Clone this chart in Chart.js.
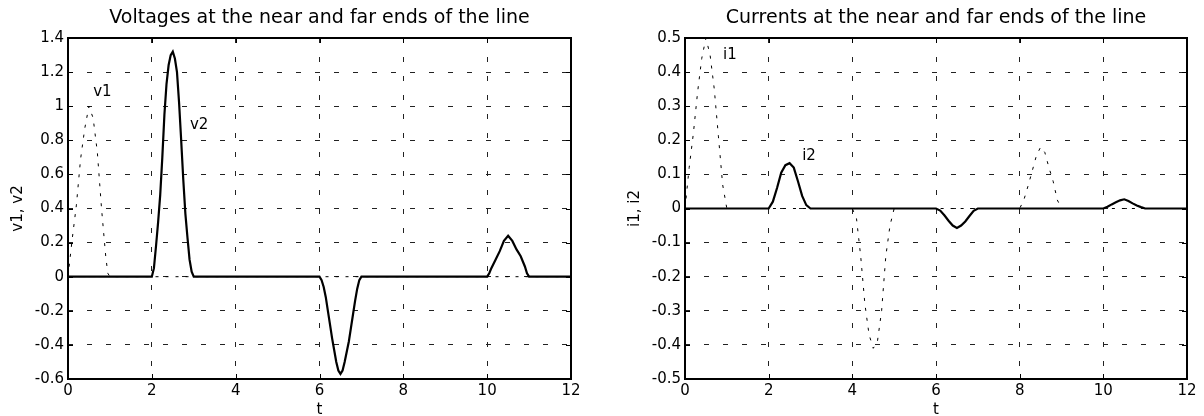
<!DOCTYPE html>
<html>
<head>
<meta charset="utf-8">
<script src="https://cdn.jsdelivr.net/npm/chart.js@4.4.1/dist/chart.umd.min.js"></script>
<style>
  html, body { margin: 0; padding: 0; background: #fff; }
  #wrap { position: relative; width: 1204px; height: 416px; }
  canvas { position: absolute; top: 0; }
</style>
</head>
<body>
<div id="wrap">
  <canvas id="volt" width="602" height="416" style="left:0"></canvas>
  <canvas id="curr" width="602" height="416" style="left:602px"></canvas>
</div>
<script>
// near end voltage v1 (dotted)
const tV1 = [0, 0.1, 0.2, 0.3, 0.4, 0.5, 0.6, 0.7, 0.8, 0.9, 0.95, 1.0, 12];
const v1 = [0, 0.22, 0.42, 0.69, 0.87, 1.0, 0.93, 0.73, 0.4, 0.12, 0.02, 0, 0];

// far end voltage v2 (solid)
const tV2 = [0,
  2.0, 2.05, 2.1, 2.15, 2.2, 2.25, 2.3, 2.35, 2.4, 2.45, 2.5, 2.55, 2.6, 2.65, 2.7, 2.75, 2.8, 2.85, 2.9, 2.95, 3.0,
  6.0, 6.05, 6.1, 6.15, 6.2, 6.25, 6.3, 6.35, 6.4, 6.45, 6.5, 6.55, 6.6, 6.65, 6.7, 6.75, 6.8, 6.85, 6.9, 6.95, 7.0,
  10.0, 10.05, 10.1, 10.2, 10.3, 10.4, 10.5, 10.6, 10.7, 10.8, 10.9, 10.95, 11.0,
  12];
const v2 = [0,
  0, 0.05, 0.18, 0.32, 0.48, 0.7, 0.95, 1.13, 1.24, 1.3, 1.32, 1.28, 1.2, 1.02, 0.8, 0.57, 0.37, 0.23, 0.1, 0.03, 0,
  0, -0.02, -0.06, -0.12, -0.2, -0.28, -0.36, -0.43, -0.5, -0.55, -0.57, -0.55, -0.5, -0.44, -0.38, -0.3, -0.22, -0.14, -0.07, -0.02, 0,
  0, 0.02, 0.05, 0.1, 0.15, 0.21, 0.24, 0.21, 0.16, 0.12, 0.06, 0.02, 0,
  0];

// near end current i1 (dotted)
const tI1 = [0, 0.1, 0.2, 0.3, 0.4, 0.5, 0.6, 0.7, 0.8, 0.9, 1.0,
  4.0, 4.1, 4.2, 4.3, 4.4, 4.5, 4.6, 4.7, 4.8, 4.9, 5.0,
  8.0, 8.1, 8.2, 8.3, 8.4, 8.5, 8.6, 8.7, 8.8, 8.9, 9.0,
  12];
const i1 = [0, 0.12, 0.22, 0.34, 0.44, 0.5, 0.45, 0.35, 0.21, 0.07, 0,
  0, -0.03, -0.14, -0.28, -0.37, -0.41, -0.39, -0.3, -0.14, -0.05, 0,
  0, 0.025, 0.066, 0.11, 0.155, 0.18, 0.165, 0.12, 0.08, 0.025, 0,
  0];

// far end current i2 (solid)
const tI2 = [0,
  2.0, 2.1, 2.2, 2.3, 2.4, 2.5, 2.6, 2.7, 2.8, 2.9, 3.0,
  6.0, 6.1, 6.2, 6.3, 6.4, 6.5, 6.6, 6.7, 6.8, 6.9, 7.0,
  10.0, 10.1, 10.2, 10.3, 10.4, 10.5, 10.6, 10.7, 10.8, 10.9, 11.0,
  12];
const i2 = [0,
  0, 0.02, 0.06, 0.105, 0.127, 0.133, 0.12, 0.08, 0.037, 0.01, 0,
  0, -0.006, -0.02, -0.036, -0.05, -0.057, -0.05, -0.038, -0.022, -0.007, 0,
  0, 0.005, 0.012, 0.018, 0.024, 0.027, 0.022, 0.015, 0.009, 0.004, 0,
  0];

const FONT = 'DejaVu Sans';

const toPts = (ts, vs) => ts.map((t, i) => ({ x: t, y: vs[i] }));

// box around the axes, inward tick marks, the title over the plot and the curve labels
const framePlugin = {
  id: 'frame',
  afterDatasetsDraw(chart, args, opts) {
    const { ctx, chartArea: a, scales: { x, y } } = chart;
    ctx.save();
    ctx.strokeStyle = '#000';
    ctx.lineWidth = 1;
    ctx.beginPath();
    x.ticks.forEach(t => {
      const px = Math.round(x.getPixelForValue(t.value)) + 0.5;
      ctx.moveTo(px, a.bottom); ctx.lineTo(px, a.bottom - 5);
      ctx.moveTo(px, a.top); ctx.lineTo(px, a.top + 5);
    });
    y.ticks.forEach(t => {
      const py = Math.round(y.getPixelForValue(t.value)) + 0.5;
      ctx.moveTo(a.left, py); ctx.lineTo(a.left + 5, py);
      ctx.moveTo(a.right, py); ctx.lineTo(a.right - 5, py);
    });
    ctx.stroke();
    ctx.lineWidth = 2;
    ctx.strokeRect(a.left, a.top, a.right - a.left, a.bottom - a.top);

    ctx.fillStyle = '#000';
    ctx.textBaseline = 'middle';

    ctx.font = '19px "' + FONT + '"';
    ctx.textAlign = 'center';
    ctx.fillText(opts.title, (a.left + a.right) / 2, 18.5);

    ctx.font = '15px "' + FONT + '"';
    ctx.textAlign = 'left';
    (opts.labels || []).forEach(l => {
      ctx.fillText(l.text, x.getPixelForValue(l.x), y.getPixelForValue(l.y));
    });
    ctx.restore();
  }
};

function makeChart(id, cfg) {
  const ctx = document.getElementById(id).getContext('2d');
  return new Chart(ctx, {
    type: 'line',
    data: {
      datasets: [
        {
          data: cfg.solid,
          borderColor: '#000',
          borderWidth: 2.2,
          pointRadius: 0,
          tension: 0,
          fill: false
        },
        {
          data: cfg.dotted,
          borderColor: '#000',
          borderWidth: 1,
          borderDash: [3, 7],
          pointRadius: 0,
          tension: 0,
          fill: false
        }
      ]
    },
    options: {
      responsive: false,
      animation: false,
      events: [],
      layout: { padding: { left: 0, right: cfg.padRight, top: 38, bottom: 0 } },
      plugins: {
        legend: { display: false },
        tooltip: { enabled: false },
        title: { display: false },
        frame: { title: cfg.title, labels: cfg.labels }
      },
      scales: {
        x: {
          type: 'linear',
          min: 0,
          max: 12,
          afterFit: s => { s.height = 37; },
          ticks: {
            stepSize: 2,
            color: '#000',
            padding: 3,
            maxRotation: 0,
            font: { family: FONT, size: 15 }
          },
          grid: { color: '#222', lineWidth: 1, drawTicks: false },
          border: { display: false, dash: [5, 14] },
          title: {
            display: true,
            text: 't',
            color: '#000',
            font: { family: FONT, size: 15 },
            padding: { top: 0, bottom: -3 }
          }
        },
        y: {
          min: cfg.yMin,
          max: cfg.yMax,
          afterFit: s => { s.width = cfg.yWidth; },
          ticks: {
            stepSize: cfg.yStep,
            color: '#000',
            padding: 4,
            font: { family: FONT, size: 15 },
            callback: v => String(Math.round(v * 10) / 10)
          },
          grid: { color: '#222', lineWidth: 1, drawTicks: false },
          border: { display: false, dash: [5, 14] },
          title: {
            display: true,
            text: cfg.yTitle,
            color: '#000',
            font: { family: FONT, size: 15 },
            padding: { top: cfg.yTitlePad, bottom: 0 }
          }
        }
      }
    },
    plugins: [framePlugin]
  });
}

makeChart('volt', {
  title: 'Voltages at the near and far ends of the line',
  solid: toPts(tV2, v2),
  dotted: toPts(tV1, v1),
  yMin: -0.6, yMax: 1.4, yStep: 0.2,
  yTitle: 'v1, v2', yWidth: 68, yTitlePad: 9, padRight: 31,
  labels: [{ text: 'v1', x: 0.6, y: 1.08 }, { text: 'v2', x: 2.91, y: 0.89 }]
});

makeChart('curr', {
  title: 'Currents at the near and far ends of the line',
  solid: toPts(tI2, i2),
  dotted: toPts(tI1, i1),
  yMin: -0.5, yMax: 0.5, yStep: 0.1,
  yTitle: 'i1, i2', yWidth: 83, yTitlePad: 24, padRight: 17,
  labels: [{ text: 'i1', x: 0.91, y: 0.45 }, { text: 'i2', x: 2.8, y: 0.154 }]
});
</script>
</body>
</html>
